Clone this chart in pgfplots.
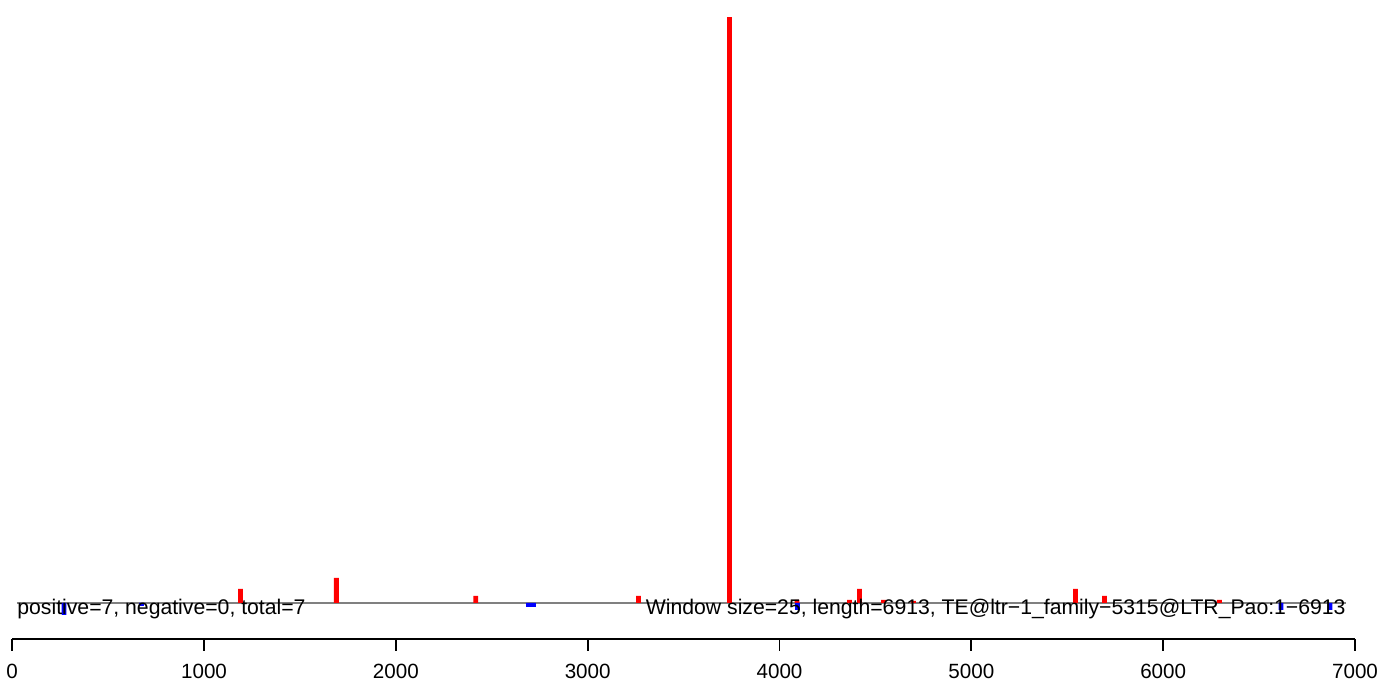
\documentclass[border=0pt]{standalone}
\usepackage{fontspec}
\setmainfont{Liberation Sans}
\usepackage{pgfplots}
\pgfplotsset{compat=1.18}
\begin{document}
\begin{tikzpicture}
\useasboundingbox (0,0) rectangle (700pt,344.5pt);
\begin{axis}[
  at={(6.1pt,25pt)}, anchor=south west,
  scale only axis, width=671.4pt, height=319.5pt,
  xmin=0, xmax=7000, ymin=-10.29, ymax=172.29,
  axis x line*=bottom, axis y line=none,
  axis line style={line width=0.9pt},
  xtick={0,1000,...,7000},
  tick align=outside, major tick length=6pt,
  tick style={line width=0.9pt, black},
  xticklabel style={font=\fontsize{10.3pt}{12pt}\selectfont, yshift=-3pt},
  /pgf/number format/assume math mode=true,
  /pgf/number format/set thousands separator={},
  scaled ticks=false,
  clip=false,
]
\addplot[gray, line width=0.75pt] coordinates {(25,0) (6955,0)};
\addplot[ybar, bar shift=0pt, bar width=2.4pt, fill=red, draw=none] coordinates {
(1190,4.0) (1690,7.14) (2416,2.0) (3265,2.0) (3739,167.4) (4091,0.86)
(4365,0.86) (4417,4.0) (4542,0.86) (4698,0.57) (5543,4.0) (5694,2.0) (6293,0.86)
};
\addplot[ybar, bar shift=0pt, bar width=2.4pt, fill=blue, draw=none] coordinates {
(270,-3.43) (674,-0.86) (2691,-1.14) (2718,-1.14) (4094,-2.0) (6614,-2.0) (6870,-2.0)
};
\node[anchor=base west, inner sep=0pt, font=\fontsize{10.6pt}{12pt}\selectfont] at (axis cs:25,-3.43) {positive=7, negative=0, total=7};
\node[anchor=base east, inner sep=0pt, font=\fontsize{10.6pt}{12pt}\selectfont] at (axis cs:6953,-3.43) {Window size=25, length=6913, TE@ltr−1\_family−5315@LTR\_Pao:1−6913};
\end{axis}
\end{tikzpicture}
\end{document}
